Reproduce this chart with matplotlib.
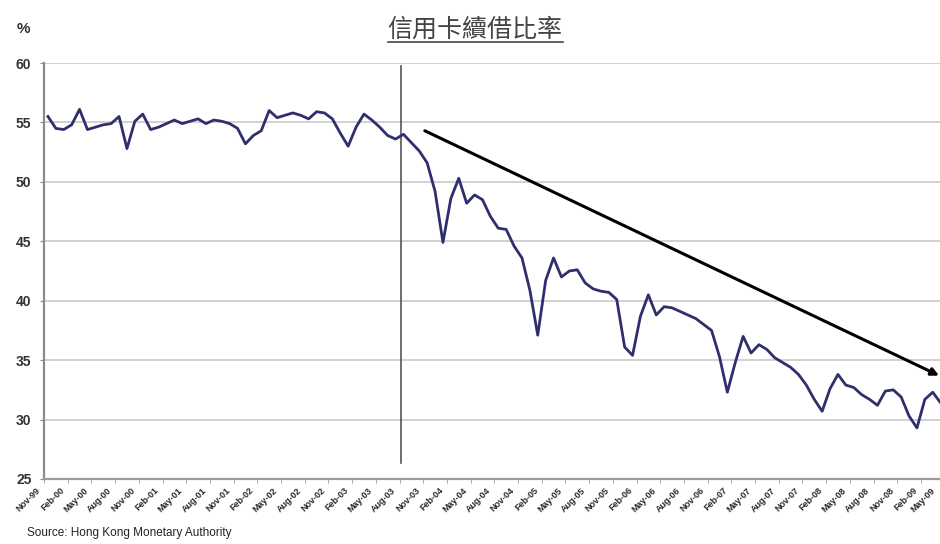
import numpy as np
import pandas as pd
import matplotlib
matplotlib.use('Agg')
import matplotlib.pyplot as plt
import matplotlib.transforms as mtransforms
from matplotlib.lines import Line2D

plt.rcParams['font.family'] = ['Liberation Sans', 'DejaVu Sans']

# monthly categories Nov-99 .. May-09
months = pd.date_range('1999-11-01', '2009-05-01', freq='MS')
month_labels = [d.strftime('%b-%y') for d in months]

# credit card rollover ratio (%)
ratio = [55.5, 54.5, 54.4, 54.8, 56.1, 54.4, 54.6, 54.8, 54.9, 55.5,
         52.8, 55.1, 55.7, 54.4, 54.6, 54.9, 55.2, 54.9, 55.1, 55.3,
         54.9, 55.2, 55.1, 54.9, 54.5, 53.2, 53.9, 54.3, 56.0, 55.4,
         55.6, 55.8, 55.6, 55.3, 55.9, 55.8, 55.3, 54.1, 53.0, 54.6,
         55.7, 55.2, 54.6, 53.9, 53.6, 54.0, 53.3, 52.6, 51.6, 49.2,
         44.9, 48.6, 50.3, 48.2, 48.9, 48.5, 47.1, 46.1, 46.0, 44.6,
         43.6, 40.9, 37.1, 41.7, 43.6, 42.0, 42.5, 42.6, 41.5, 41.0,
         40.8, 40.7, 40.1, 36.1, 35.4, 38.7, 40.5, 38.8, 39.5, 39.4,
         39.1, 38.8, 38.5, 38.0, 37.5, 35.3, 32.3, 34.8, 37.0, 35.6,
         36.3, 35.9, 35.2, 34.8, 34.4, 33.8, 32.9, 31.7, 30.7, 32.6,
         33.8, 32.9, 32.7, 32.1, 31.7, 31.2, 32.4, 32.5, 31.9, 30.3,
         29.3, 31.7, 32.3, 31.4, 31.0]

y_ticks = [25, 30, 35, 40, 45, 50, 55, 60]

# annotations: divider (month index, y range) and trend arrow (index, value)
divider_x = 44.75
divider_y = (26.35, 59.75)
trend_start = (47.7, 54.3)
trend_end = (112.8, 33.7)

W, H = 940, 544
fig = plt.figure(figsize=(W / 100, H / 100), dpi=100)
ax = fig.add_axes([44 / W, 65 / H, (952.5 - 44) / W, 416 / H])

x = np.arange(len(ratio))
ax.plot(x, ratio, color='#2f2f6e', lw=2.0, solid_joinstyle='round', zorder=3)

ax.set_xlim(-0.5, len(months) - 0.5)
ax.set_ylim(25, 60)
ax.set_yticks(y_ticks)
ax.grid(axis='y', color='#c9c9c9', lw=1.2)
ax.set_axisbelow(True)

for s in ['top', 'right']:
    ax.spines[s].set_visible(False)
ax.spines['left'].set_color('#8a8a8a')
ax.spines['left'].set_linewidth(1.6)
ax.spines['bottom'].set_color('#9a9a9a')
ax.spines['bottom'].set_linewidth(1.6)

ax.tick_params(axis='y', length=3, color='#8a8a8a', pad=6, labelsize=10, labelcolor='#333333')
for lbl in ax.get_yticklabels():
    lbl.set_fontweight('bold')

ax.set_xticks(x[::3])
ax.set_xticklabels(month_labels[::3], rotation=45, ha='right', rotation_mode='anchor',
                   fontsize=6.5, fontweight='bold', color='#2a2a2a')
ax.set_xticks(np.arange(-0.5, len(months), 3), minor=True)
ax.tick_params(axis='x', which='major', length=0, pad=5)
ax.tick_params(axis='x', which='minor', length=3, color='#9a9a9a')
offset = mtransforms.ScaledTranslation(-12 / 100, 0, fig.dpi_scale_trans)
last_offset = mtransforms.ScaledTranslation(-18 / 100, 0, fig.dpi_scale_trans)
xlabels = ax.get_xticklabels()
for k, lbl in enumerate(xlabels):
    # the last label sits at the cropped right edge; nudge it inside
    lbl.set_transform(lbl.get_transform() + (last_offset if k == len(xlabels) - 1 else offset))

# divider and trend arrow
ax.plot([divider_x, divider_x], divider_y, color='#555555', lw=1.2, zorder=2)
ax.annotate('', xy=trend_end, xytext=trend_start,
            arrowprops=dict(arrowstyle='-|>', color='black', lw=2.2,
                            mutation_scale=11, shrinkA=0, shrinkB=0), zorder=4)

# title with underline
t = fig.text(475 / W, 1 - 30 / H, '信用卡續借比率', ha='center', va='center',
             fontsize=18, color='#444444', family=['Noto Sans CJK TC', 'DejaVu Sans'])
fig.canvas.draw()
bb = t.get_window_extent().transformed(fig.transFigure.inverted())
fig.add_artist(Line2D([bb.x0, bb.x1], [bb.y0 + 0.002, bb.y0 + 0.002],
                      transform=fig.transFigure, color='#444444', lw=1.2))

fig.text(17 / W, 1 - 29 / H, '%', fontsize=11, fontweight='bold', color='#333333', va='center')
fig.text(27 / W, 1 - 533 / H, 'Source: Hong Kong Monetary Authority', fontsize=8.5,
         va='center', color='#222222')

fig.savefig('out.png', dpi=100)
